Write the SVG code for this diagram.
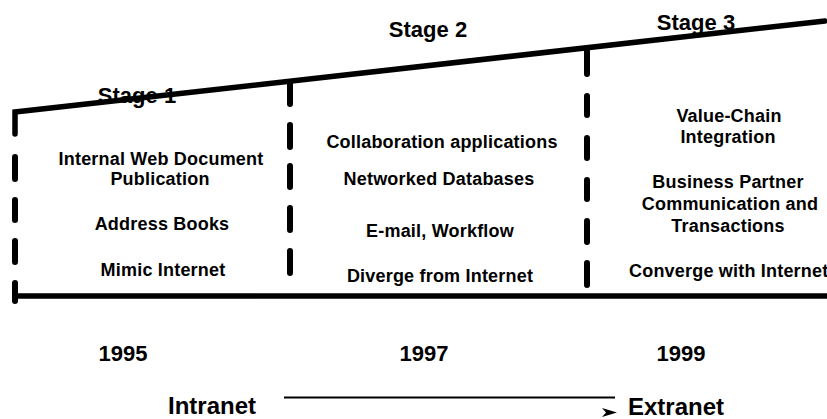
<svg xmlns="http://www.w3.org/2000/svg" width="827" height="419" viewBox="0 0 827 419">
  <style>
    text { font-family: "Liberation Sans", Arial, sans-serif; font-weight: bold; fill: #000; }
    .stage { font-size: 22px; text-anchor: middle; }
    .body { font-size: 18px; text-anchor: middle; letter-spacing: 0.2px; }
    .year { font-size: 22px; text-anchor: middle; }
    .end { font-size: 24px; }
    .thick { stroke: #000; stroke-width: 5.5; fill: none; stroke-linecap: round; stroke-linejoin: miter; }
    .dash { stroke: #000; stroke-width: 6; fill: none; stroke-linecap: round; }
  </style>
  <rect width="827" height="419" fill="#fff"/>
  <g id="frame">
    <path class="thick" d="M15 134 V112 L825 21"/>
    <path class="thick" d="M15 296 H830"/>
  </g>
  <g id="dividers">
    <path class="dash" d="M15 157 V179 M15 200 V220 M15 241 V262 M15 283 V301"/>
    <path class="dash" d="M290 82 V104 M290 125 V147 M290 166 V187 M290 208 V230 M290 251 V273"/>
    <path class="dash" d="M587 49 V74 M587 96 V115 M587 138 V158 M587 180 V199 M587 221 V242 M587 263 V285"/>
  </g>
  <g id="stage1">
    <text class="stage" x="137" y="103">Stage 1</text>
    <text class="body" x="161" y="165">Internal Web Document</text>
    <text class="body" x="160" y="185">Publication</text>
    <text class="body" x="162" y="230">Address Books</text>
    <text class="body" x="163" y="276">Mimic Internet</text>
    <text class="year" x="123" y="361">1995</text>
  </g>
  <g id="stage2">
    <text class="stage" x="428" y="37">Stage 2</text>
    <text class="body" x="442" y="148">Collaboration applications</text>
    <text class="body" x="439" y="185">Networked Databases</text>
    <text class="body" x="440" y="237">E-mail, Workflow</text>
    <text class="body" x="440" y="282">Diverge from Internet</text>
    <text class="year" x="424" y="361">1997</text>
  </g>
  <g id="stage3">
    <text class="stage" x="696" y="30">Stage 3</text>
    <text class="body" x="729" y="122">Value-Chain</text>
    <text class="body" x="728" y="143">Integration</text>
    <text class="body" x="728" y="188">Business Partner</text>
    <text class="body" x="730" y="210">Communication and</text>
    <text class="body" x="728" y="232">Transactions</text>
    <text class="body" x="629" y="277" style="text-anchor:start">Converge with Internet</text>
    <text class="year" x="681" y="361">1999</text>
  </g>
  <g id="intranet">
    <text class="end" x="168" y="414">Intranet</text>
  </g>
  <g id="extranet">
    <text class="end" x="628" y="415">Extranet</text>
  </g>
  <g id="connectors">
    <line x1="284" y1="397.5" x2="615" y2="397.5" stroke="#000" stroke-width="2"/>
    <path d="M602 408 L617 412.5 L602 417 L606 412.5 Z" fill="#000"/>
  </g>
</svg>
